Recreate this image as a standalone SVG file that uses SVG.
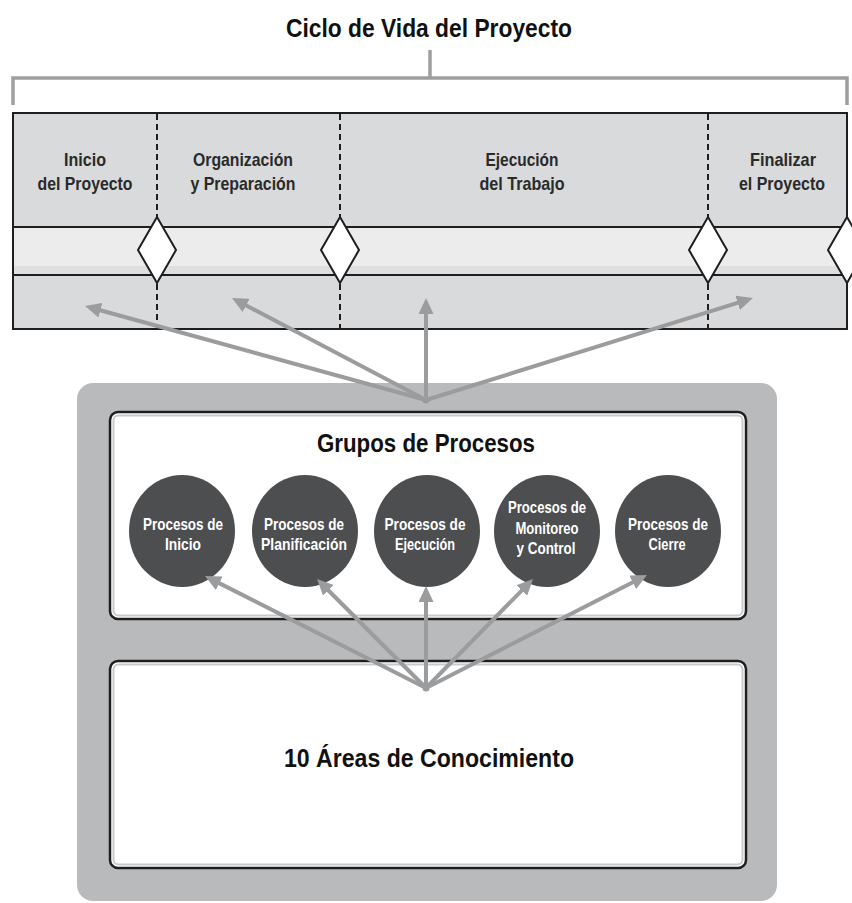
<svg xmlns="http://www.w3.org/2000/svg" width="852" height="903" viewBox="0 0 852 903">
<defs>
<style>
text{font-family:"Liberation Sans",Arial,sans-serif;font-weight:bold;text-anchor:middle}
.title{font-size:26px;fill:#111}
.phase{font-size:19px;fill:#2a2a2a}
.proc{font-size:17px;fill:#ffffff}
.band{fill:#d9dadb;stroke:none}
.edge{fill:none;stroke:#1e1e1e;stroke-width:2}
.dash{stroke:#1e1e1e;stroke-width:2;stroke-dasharray:6 4}
.diamond{fill:#ffffff;stroke:#1e1e1e;stroke-width:2}
.bracket{fill:none;stroke:#9d9e9f;stroke-width:3.5}
.arrow{stroke:#9b9c9e;stroke-width:4;fill:none;marker-end:url(#ah)}
.circ{fill:#4d4e50}
.inner{fill:#ffffff;stroke:#1e1e1e;stroke-width:2.5}
.innerline{fill:none;stroke:#c9cacb;stroke-width:2}
</style>
<marker id="ah" markerUnits="userSpaceOnUse" markerWidth="16" markerHeight="15" refX="4" refY="7.5" orient="auto">
<path d="M0,0 L16,7.5 L0,15 z" fill="#9b9c9e"/>
</marker>
</defs>
<rect width="852" height="903" fill="#ffffff"/>

<g id="lifecycle-title">
<text class="title" x="429" y="37" textLength="286" lengthAdjust="spacingAndGlyphs">Ciclo de Vida del Proyecto</text>
<path class="bracket" d="M13,105 V78 H847 V105 M430,50 V78"/>
</g>

<g id="lifecycle-bar">
<rect class="band" x="13" y="113" width="834" height="114"/>
<rect x="13" y="227" width="834" height="48" fill="#ececed"/>
<rect x="13" y="266" width="834" height="9" fill="#dfdfe0"/>
<rect class="band" x="13" y="275" width="834" height="54"/>
<line class="edge" x1="13" y1="227" x2="847" y2="227"/>
<line class="edge" x1="13" y1="275" x2="847" y2="275"/>
<rect class="edge" x="13" y="113" width="834" height="216"/>
<line class="dash" x1="157" y1="114" x2="157" y2="328"/>
<line class="dash" x1="340" y1="114" x2="340" y2="328"/>
<line class="dash" x1="708" y1="114" x2="708" y2="328"/>
</g>

<g id="phase-inicio">
<text class="phase" x="85" y="166" textLength="42" lengthAdjust="spacingAndGlyphs">Inicio</text>
<text class="phase" x="85" y="190" textLength="95" lengthAdjust="spacingAndGlyphs">del Proyecto</text>
</g>
<g id="phase-organizacion">
<text class="phase" x="243" y="166" textLength="100" lengthAdjust="spacingAndGlyphs">Organización</text>
<text class="phase" x="243" y="190" textLength="105" lengthAdjust="spacingAndGlyphs">y Preparación</text>
</g>
<g id="phase-ejecucion">
<text class="phase" x="522" y="166" textLength="73" lengthAdjust="spacingAndGlyphs">Ejecución</text>
<text class="phase" x="522" y="190" textLength="85" lengthAdjust="spacingAndGlyphs">del Trabajo</text>
</g>
<g id="phase-finalizar">
<text class="phase" x="783" y="166" textLength="66" lengthAdjust="spacingAndGlyphs">Finalizar</text>
<text class="phase" x="782" y="190" textLength="86" lengthAdjust="spacingAndGlyphs">el Proyecto</text>
</g>

<g id="milestones">
<path class="diamond" d="M157,217 L176,250 L157,283 L138,250 z"/>
<path class="diamond" d="M340,217 L359,250 L340,283 L321,250 z"/>
<path class="diamond" d="M708,217 L727,250 L708,283 L689,250 z"/>
<path class="diamond" d="M847,217 L866,250 L847,283 L828,250 z"/>
</g>

<g id="outer-container">
<rect x="77" y="383" width="700" height="518" rx="16" fill="#b9babc"/>
</g>

<g id="grupos-de-procesos">
<rect class="inner" x="110" y="412" width="636" height="207" rx="8"/>
<rect class="innerline" x="113.5" y="415.5" width="629" height="200" rx="5"/>
<text class="title" x="426" y="452" textLength="218" lengthAdjust="spacingAndGlyphs">Grupos de Procesos</text>
</g>

<g id="proc-inicio">
<ellipse class="circ" cx="182" cy="531" rx="53" ry="56"/>
<text class="proc" x="183" y="530" textLength="80" lengthAdjust="spacingAndGlyphs">Procesos de</text>
<text class="proc" x="183" y="550" textLength="36" lengthAdjust="spacingAndGlyphs">Inicio</text>
</g>
<g id="proc-planificacion">
<ellipse class="circ" cx="305" cy="531" rx="53" ry="56"/>
<text class="proc" x="304" y="530" textLength="80" lengthAdjust="spacingAndGlyphs">Procesos de</text>
<text class="proc" x="304" y="550" textLength="86" lengthAdjust="spacingAndGlyphs">Planificación</text>
</g>
<g id="proc-ejecucion">
<ellipse class="circ" cx="427" cy="531" rx="53" ry="56"/>
<text class="proc" x="425" y="530" textLength="81" lengthAdjust="spacingAndGlyphs">Procesos de</text>
<text class="proc" x="425" y="550" textLength="60" lengthAdjust="spacingAndGlyphs">Ejecución</text>
</g>
<g id="proc-monitoreo">
<ellipse class="circ" cx="547" cy="531" rx="53" ry="56"/>
<text class="proc" x="547" y="513" textLength="78" lengthAdjust="spacingAndGlyphs">Procesos de</text>
<text class="proc" x="547" y="534" textLength="63" lengthAdjust="spacingAndGlyphs">Monitoreo</text>
<text class="proc" x="546" y="554" textLength="59" lengthAdjust="spacingAndGlyphs">y Control</text>
</g>
<g id="proc-cierre">
<ellipse class="circ" cx="668" cy="531" rx="53" ry="56"/>
<text class="proc" x="668" y="530" textLength="80" lengthAdjust="spacingAndGlyphs">Procesos de</text>
<text class="proc" x="667" y="550" textLength="37" lengthAdjust="spacingAndGlyphs">Cierre</text>
</g>

<g id="areas-conocimiento">
<rect class="inner" x="110" y="661" width="636" height="207" rx="8"/>
<rect class="innerline" x="113.5" y="664.5" width="629" height="200" rx="5"/>
<text class="title" x="429" y="767" textLength="290" lengthAdjust="spacingAndGlyphs">10 Áreas de Conocimiento</text>
</g>

<g id="connectors">
<line class="arrow" x1="426" y1="400" x2="96.6" y2="309.2"/>
<line class="arrow" x1="426" y1="400" x2="242.6" y2="303.6"/>
<line class="arrow" x1="426" y1="400" x2="426" y2="310"/>
<line class="arrow" x1="426" y1="400" x2="741.5" y2="301.6"/>
<circle cx="426" cy="400" r="3.5" fill="#9b9c9e"/>
<line class="arrow" x1="426" y1="688" x2="215.7" y2="581.4"/>
<line class="arrow" x1="426" y1="688" x2="325.5" y2="587.5"/>
<line class="arrow" x1="426" y1="688" x2="426" y2="598"/>
<line class="arrow" x1="426" y1="688" x2="524.6" y2="587.6"/>
<line class="arrow" x1="426" y1="688" x2="636.3" y2="580.5"/>
<circle cx="426" cy="688" r="3.5" fill="#9b9c9e"/>
</g>
</svg>
